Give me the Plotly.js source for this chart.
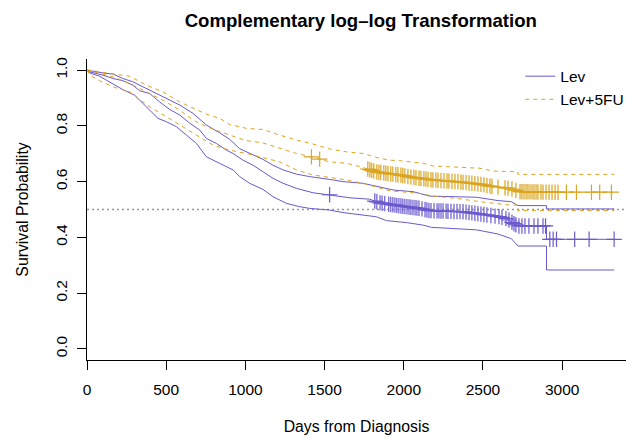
<!DOCTYPE html>
<html>
<head>
<meta charset="utf-8">
<script src="https://cdn.plot.ly/plotly-3.0.1.min.js"></script>
<style>html,body{margin:0;padding:0;background:#fff;}#chart{width:626px;height:439px;}</style>
</head>
<body>
<div id="chart"></div>
<script>
// ---- Data ----
const groups = ["Lev", "Lev+5FU"];

// Lev: survival estimate and complementary log-log confidence limits
const levEstT = [0,17,101,164,227,290,333,396,459,522,585,648,712,754,817,880,922,985,1048,1111,1174,1238,1322,1427,1532,1659,1785,1848,1975,2101,2164,2374,2480,2606,2658,2690,2721,2901,2901,3329];
const levEstS = [1,.994,.982,.970,.962,.946,.926,.916,.886,.859,.839,.810,.785,.755,.737,.713,.701,.677,.659,.635,.612,.594,.576,.560,.553,.542,.537,.524,.513,.504,.496,.492,.484,.474,.465,.451,.441,.441,.393,.393];
const levHiT = [0,17,101,164,227,290,333,396,459,522,585,669,754,838,901,964,1027,1111,1174,1238,1322,1406,1532,1616,1743,1848,1932,2058,2164,2459,2595,2680,2721,2901,2901,3329];
const levHiS = [1,.998,.990,.986,.970,.958,.946,.926,.910,.892,.875,.845,.803,.775,.752,.718,.701,.680,.659,.642,.627,.618,.608,.600,.594,.580,.570,.564,.548,.544,.532,.528,.514,.514,.502,.502];
const levLoT = [0,17,80,154,227,301,354,396,448,501,565,628,691,754,796,859,922,964,1027,1111,1174,1259,1343,1406,1532,1616,1743,1827,1891,2017,2122,2175,2459,2595,2680,2721,2901,2901,3329];
const levLoS = [1,.990,.978,.954,.930,.910,.881,.857,.827,.815,.797,.767,.737,.689,.677,.659,.642,.618,.594,.572,.546,.522,.510,.504,.498,.489,.480,.474,.460,.453,.444,.436,.427,.412,.395,.369,.369,.283,.283];
const levCensorT = [1532,1817,1830,1850,1863,1880,1905,1918,1931,1944,1956,1969,1982,1994,2007,2020,2033,2045,2058,2071,2083,2096,2115,2134,2146,2159,2172,2191,2210,2222,2235,2248,2267,2279,2298,2317,2336,2355,2374,2393,2412,2430,2449,2468,2487,2506,2525,2550,2576,2601,2620,2645,2664,2683,2696,2708,2727,2746,2765,2790,2822,2847,2879,2895,2922,2943,2964,3079,3170,3328];

// Lev+5FU
const lfEstT = [0,38,164,270,375,480,585,669,754,838,901,964,1007,1111,1217,1322,1417,1532,1638,1743,1827,1911,1975,2058,2185,2332,2480,2564,2669,2732,2922,3329];
const lfEstS = [1,.994,.976,.952,.922,.892,.857,.821,.797,.779,.767,.755,.747,.739,.719,.701,.689,.671,.666,.651,.635,.628,.624,.615,.606,.600,.591,.582,.576,.564,.562,.562];
const lfHiT = [0,17,122,270,375,480,585,691,754,838,901,1007,1111,1217,1322,1427,1532,1638,1743,1848,1911,1975,2122,2185,2311,2480,2564,2721,2721,3329];
const lfHiS = [1,1,.990,.978,.946,.922,.886,.857,.842,.827,.805,.791,.787,.767,.749,.735,.717,.707,.701,.684,.677,.675,.666,.656,.653,.648,.638,.635,.626,.626];
const lfLoT = [0,17,80,164,270,333,396,501,585,691,796,901,1007,1111,1217,1322,1427,1532,1638,1743,1827,1911,1975,2101,2185,2332,2480,2669,2721,2721,3329];
const lfLoS = [1,.982,.962,.940,.922,.895,.868,.833,.803,.767,.731,.713,.701,.687,.671,.642,.624,.615,.606,.594,.580,.567,.564,.558,.548,.540,.528,.516,.516,.496,.496];
const lfCensorT = [1417,1469,1773,1786,1798,1811,1830,1843,1855,1874,1887,1900,1918,1931,1950,1963,1982,1994,2007,2026,2045,2064,2077,2096,2108,2127,2140,2153,2172,2184,2203,2216,2235,2254,2273,2285,2304,2323,2342,2361,2374,2393,2412,2430,2449,2468,2487,2506,2525,2544,2557,2595,2639,2658,2683,2708,2734,2746,2759,2772,2784,2797,2810,2822,2835,2847,2866,2879,2898,2917,2936,2955,2974,3027,3090,3185,3237,3311];

const referenceLevel = 0.5;
const xTicks = [0,500,1000,1500,2000,2500,3000];
const yTicks = [0,0.2,0.4,0.6,0.8,1.0];
const yTickText = ["0.0","0.2","0.4","0.6","0.8","1.0"];

// ---- Build chart ----
const PURPLE = "#6A5ACD", GOLD = "#DAA520";
function valueAt(T, S, t) {
  let i = -1;
  for (let k = 0; k < T.length; k++) { if (T[k] <= t) i = k; }
  if (i < 0) return S[0];
  if (i >= T.length - 1) return S[S.length - 1];
  const t0 = T[i], t1 = T[i+1];
  if (t1 === t0) return S[i+1];
  return S[i] + (S[i+1] - S[i]) * (t - t0) / (t1 - t0);
}
function line(T, S, color, dash, name, show) {
  return {x: T, y: S, type: "scatter", mode: "lines", name: name, showlegend: show,
    line: {color: color, width: 1, dash: dash}, hoverinfo: "skip"};
}
function censor(ct, T, S, color) {
  return {x: ct, y: ct.map(t => valueAt(T, S, t)), type: "scatter", mode: "markers", showlegend: false,
    marker: {symbol: "cross-thin", size: 11, color: color, line: {color: color, width: 1.2}}, hoverinfo: "skip"};
}
const DASH = "4px,4px";
const data = [
  line(levEstT, levEstS, PURPLE, "solid", groups[0], true),
  line(levHiT, levHiS, PURPLE, "solid", groups[0], false),
  line(levLoT, levLoS, PURPLE, "solid", groups[0], false),
  censor(levCensorT, levEstT, levEstS, PURPLE),
  line(lfEstT, lfEstS, GOLD, DASH, groups[1], true),
  line(lfHiT, lfHiS, GOLD, DASH, groups[1], false),
  line(lfLoT, lfLoS, GOLD, DASH, groups[1], false),
  censor(lfCensorT, lfEstT, lfEstS, GOLD)
];
const FONT = "Liberation Sans, Arial, Helvetica, sans-serif";
const layout = {
  width: 626, height: 439,
  margin: {l: 87, r: 0, t: 59, b: 79, autoexpand: false},
  paper_bgcolor: "#fff", plot_bgcolor: "#fff",
  font: {family: FONT, size: 15.5, color: "#000"},
  title: {text: "Complementary log\u2013log Transformation", font: {family: FONT, size: 18.6, weight: "bold", color: "#000"},
    x: 0.508, xref: "paper", xanchor: "center", y: 1 - 20/439, yref: "container", yanchor: "middle"},
  xaxis: {range: [0, 3403], tickvals: xTicks, ticktext: xTicks.map(String), showgrid: false, zeroline: false,
    showline: true, linecolor: "#000", linewidth: 1, ticks: "outside", ticklen: 9, tickcolor: "#000", tickwidth: 1,
    tickfont: {size: 15.5}, ticklabelstandoff: 6,
    title: {text: "Days from Diagnosis", font: {size: 15.8}, standoff: 24}},
  yaxis: {range: [-0.04, 1.04], tickvals: yTicks, ticktext: yTickText, tickangle: -90, showgrid: false, zeroline: false,
    showline: true, linecolor: "#000", linewidth: 1, ticks: "outside", ticklen: 9, tickcolor: "#000", tickwidth: 1,
    tickfont: {size: 15.5}, ticklabelstandoff: 4,
    title: {text: "Survival Probability", font: {size: 15.8}, standoff: 20}},
  shapes: [{type: "line", xref: "paper", x0: 0, x1: 1, yref: "y", y0: referenceLevel, y1: referenceLevel,
    line: {color: "#999", width: 1.5, dash: "2px,3px"}, layer: "below"}],
  legend: {x: 0.804, xanchor: "left", y: 0.998, yanchor: "top", bgcolor: "rgba(0,0,0,0)", borderwidth: 0,
    font: {size: 15.5}, tracegroupgap: 0},
  showlegend: true
};
Plotly.newPlot("chart", data, layout, {staticPlot: true, displayModeBar: false});
</script>
</body>
</html>
